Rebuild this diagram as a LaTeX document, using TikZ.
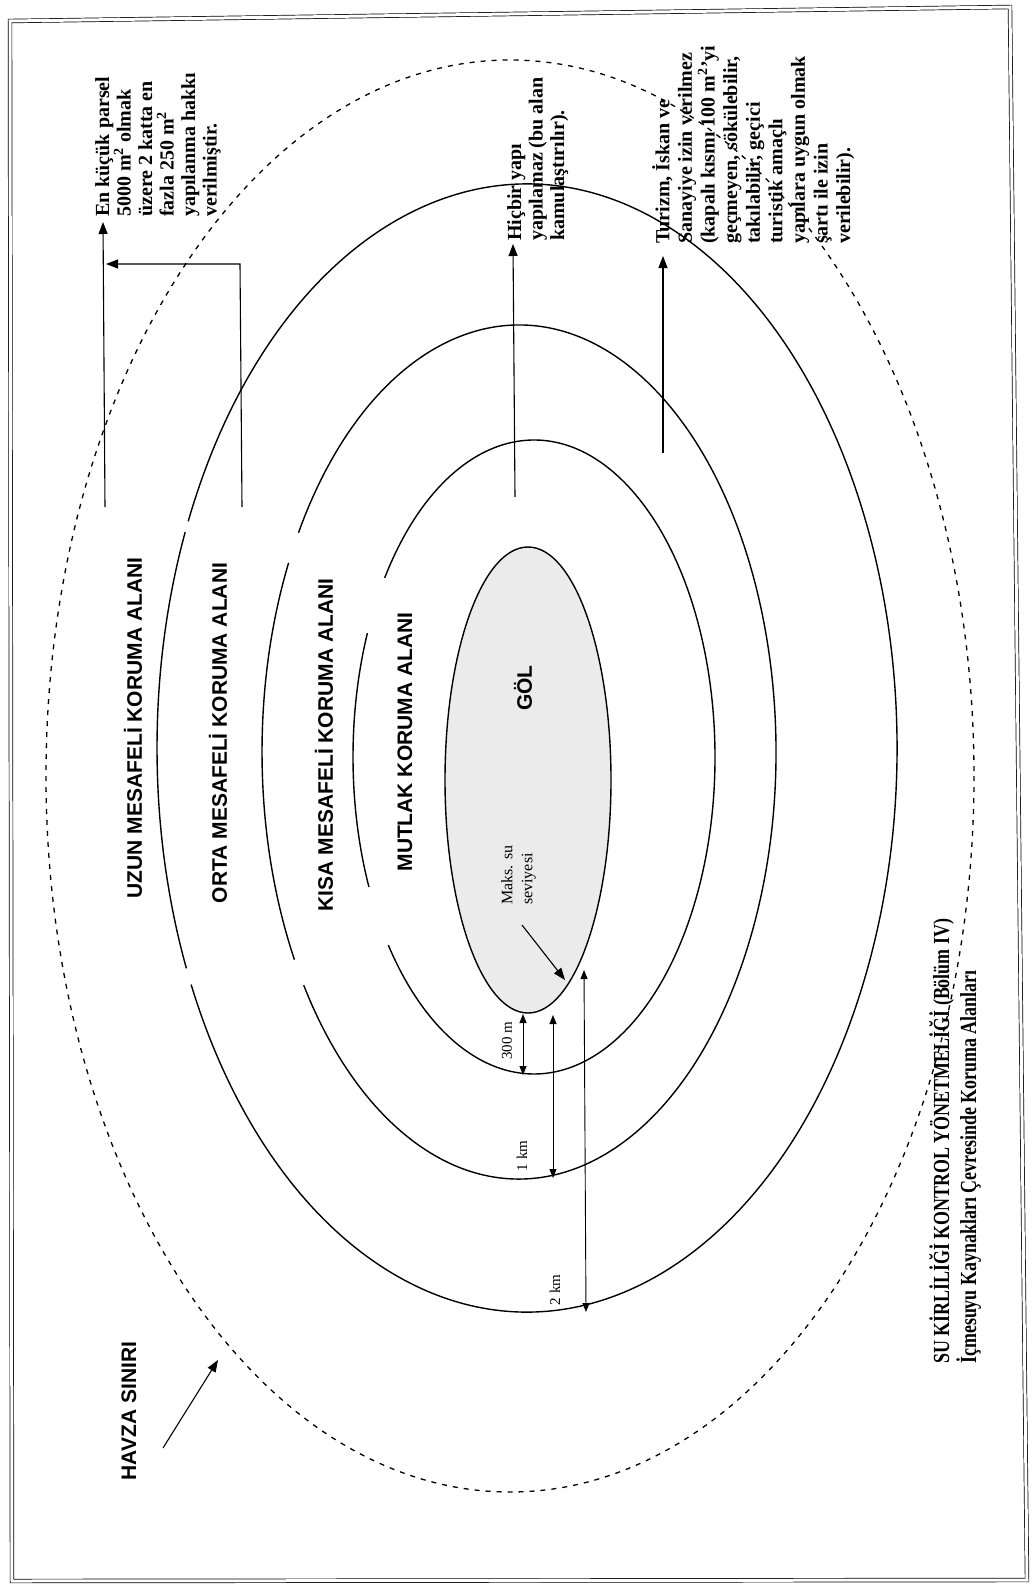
\documentclass[tikz,border=0pt]{standalone}
\usepackage{fontspec}
\setmainfont{Liberation Serif}
\setsansfont{Liberation Sans}
\newfontfamily\titlefont[FakeStretch=0.78]{Liberation Serif}
\usetikzlibrary{arrows.meta}

\begin{document}
\begin{tikzpicture}[x=1pt, y=-1pt,
  ringline/.style={line width=1.4pt},
  basin/.style={line width=1.3pt, dash pattern=on 5pt off 6pt},
  zonelabel/.style={rotate=90, font=\sffamily\bfseries\fontsize{21}{24}\selectfont},
  notetext/.style={rotate=90, anchor=north west, inner sep=0pt, align=left, font=\bfseries\fontsize{20}{21.5}\selectfont},
  dimlabel/.style={rotate=90, inner sep=0pt, font=\fontsize{15}{17}\selectfont},
  leader/.style={line width=1.1pt, -{Triangle[length=12pt,width=9pt]}},
  dimline/.style={line width=0.9pt, {Triangle[length=9pt,width=7pt]}-{Triangle[length=9pt,width=7pt]}}]
\useasboundingbox (0,0) rectangle (1032,1589);

% frame
\draw[line width=0.7pt, double, double distance=3pt] (10,21) -- (1010,7) -- (1027,1580) -- (12,1581) -- cycle;

% basin boundary
\coordinate (havza) at (510,776);
\draw[basin] (havza) ellipse[x radius=464, y radius=716];

% rings: 2 km, 1 km, 300 m
\coordinate (r2) at (527,748);
\coordinate (r1) at (519,752);
\coordinate (r0) at (534,757);
\draw[ringline] (r2) ++(203.7:370 and 564) arc[start angle=203.7, end angle=515.2, x radius=370, y radius=564];
\draw[ringline] (r2) ++(157.0:370 and 564) arc[start angle=157.0, end angle=202.5, x radius=370, y radius=564];
\draw[ringline] (r1) ++(210.9:257 and 427) arc[start angle=210.9, end angle=506.9, x radius=257, y radius=427];
\draw[ringline] (r1) ++(150.9:257 and 427) arc[start angle=150.9, end angle=206.3, x radius=257, y radius=427];
\draw[ringline] (r0) ++(214.4:181 and 317) arc[start angle=214.4, end angle=503.6, x radius=181, y radius=317];
\draw[ringline] (r0) ++(155.8:181 and 317) arc[start angle=155.8, end angle=203.0, x radius=181, y radius=317];

% lake
\coordinate (lake) at (528,780);
\fill[gray!16] (lake) ellipse[x radius=83, y radius=233];
\draw[ringline] (lake) ellipse[x radius=83, y radius=233];

% zone labels
\node[zonelabel] (uzun) at (133,728) {UZUN MESAFELİ KORUMA ALANI};
\node[zonelabel] (orta) at (218,733) {ORTA MESAFELİ KORUMA ALANI};
\node[zonelabel] (kisa) at (324,745) {KISA MESAFELİ KORUMA ALANI};
\node[zonelabel] (mutlak) at (405,742) {MUTLAK KORUMA ALANI};
\node[zonelabel] (gol) at (523,688) {GÖL};
\node[zonelabel] (sinir) at (129,1411) {HAVZA SINIRI};

% notes
\node[notetext] (parsel) at (95,217) {En küçük parsel\\5000 m\textsuperscript{2} olmak\\üzere 2 katta en\\fazla 250 m\textsuperscript{2}\\yapılanma hakkı\\verilmiştir.};
\node[notetext] (hicbir) at (507,241) {Hiçbir yapı\\yapılamaz (bu alan\\kamulaştırılır).};
\node[notetext, font=\bfseries\fontsize{20}{22.6}\selectfont] (turizm) at (652,244) {Turizm, İskan ve\\Sanayiye izin verilmez\\(kapalı kısmı 100 m\textsuperscript{2}'yi\\geçmeyen, sökülebilir,\\takılabilir, geçici\\turistik amaçlı\\yapılara uygun olmak\\şartı ile izin\\verilebilir).};
\node[notetext, font=\fontsize{16}{20}\selectfont] (maks) at (501,905) {Maks. su\\seviyesi};
\node[notetext, font=\titlefont\bfseries\fontsize{23}{27}\selectfont] (baslik) at (929,1364) {SU KİRLİLİĞİ KONTROL YÖNETMELİĞİ (Bölüm IV)\\İçmesuyu Kaynakları Çevresinde Koruma Alanları};

% leaders
\coordinate (a1) at (105,507);
\coordinate (a2) at (103,222);
\draw[leader] (a1) -- (a2);
\coordinate (b1) at (242,507);
\coordinate (b2) at (240,264);
\coordinate (b3) at (106,264);
\draw[leader] (b1) -- (b2) -- (b3);
\coordinate (c1) at (515,497);
\coordinate (c2) at (513,244);
\draw[leader] (c1) -- (c2);
\coordinate (d1) at (663,453);
\coordinate (d2) at (663,256);
\draw[leader] (d1) -- (d2);
\coordinate (e1) at (522,925);
\coordinate (e2) at (565,980);
\draw[leader] (e1) -- (e2);
\coordinate (f1) at (163,1448);
\coordinate (f2) at (218,1360);
\draw[leader] (f1) -- (f2);

% distances
\coordinate (g0) at (523,1014);
\coordinate (g1) at (523,1075);
\draw[dimline] (g0) -- (g1);
\coordinate (h0) at (553,1015);
\coordinate (h1) at (553,1178);
\draw[dimline] (h0) -- (h1);
\coordinate (i0) at (584,970);
\coordinate (i1) at (586,1312);
\draw[dimline] (i0) -- (i1);
\node[dimlabel] (m300) at (507,1041) {300 m};
\node[dimlabel] (km1) at (522,1156) {1 km};
\node[dimlabel] (km2) at (555,1290) {2 km};

\end{tikzpicture}
\end{document}
